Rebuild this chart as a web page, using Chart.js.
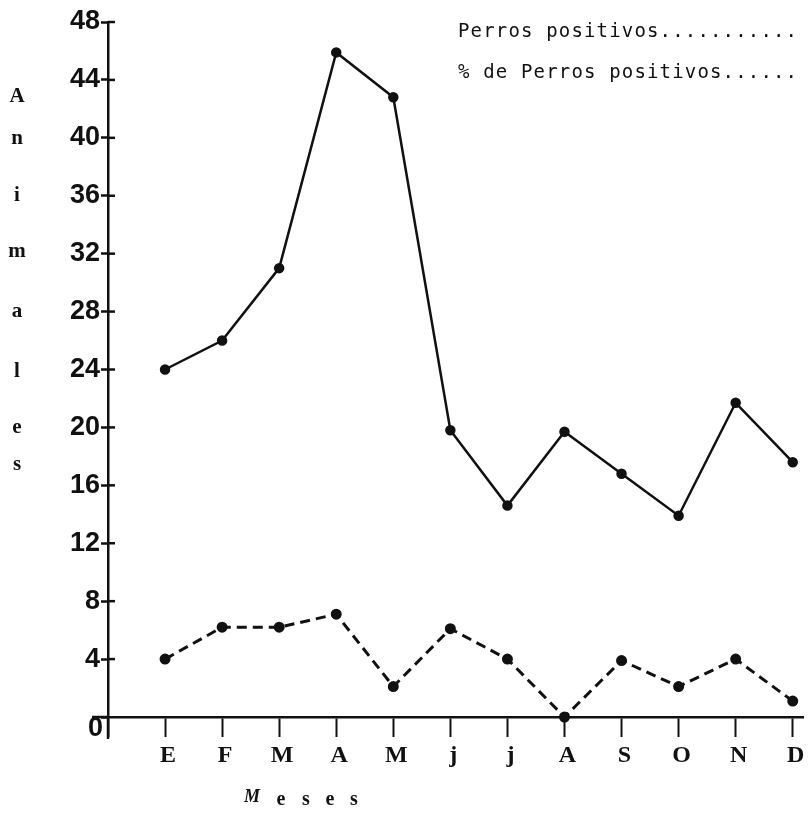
<!DOCTYPE html>
<html>
<head>
<meta charset="utf-8">
<script src="https://cdn.jsdelivr.net/npm/chart.js@4.4.1/dist/chart.umd.min.js"></script>
<style>
  html, body { margin: 0; padding: 0; background: #fff; }
  #wrap { width: 810px; height: 817px; }
</style>
</head>
<body>
<div id="wrap"><canvas id="chart" width="810" height="817"></canvas></div>
<script>
// months (x categories 1..12)
const meses = ['E', 'F', 'M', 'A', 'M', 'j', 'j', 'A', 'S', 'O', 'N', 'D']
const perrosPositivos = [24.0, 26.0, 31.0, 45.9, 42.8, 19.8, 14.6, 19.7, 16.8, 13.9, 21.7, 17.6]
const pctPerrosPositivos = [4.0, 6.2, 6.2, 7.1, 2.1, 6.1, 4.0, 0.0, 3.9, 2.1, 4.0, 1.1]
const yTicks = [0, 4, 8, 12, 16, 20, 24, 28, 32, 36, 40, 44, 48]
const xTicks = [0, 1, 2, 3, 4, 5, 6, 7, 8, 9, 10, 11, 12]
const tituloY = ['A', 'n', 'i', 'm', 'a', 'l', 'e', 's']
const tituloX = ['M', 'e', 's', 'e', 's']
const leyenda = ['Perros positivos...........', '% de Perros positivos......']

const INK = '#111'
const toPoints = arr => arr.map((v, i) => ({ x: i + 1, y: v }))

// extras drawn by hand: crossing ticks, axis stubs, titles, legend text
const extras = {
  id: 'extras',
  afterDraw(chart) {
    const ctx = chart.ctx
    const xs = chart.scales.x
    const ys = chart.scales.y
    const x0 = xs.getPixelForValue(0)
    const y0 = ys.getPixelForValue(0)
    ctx.save()
    ctx.strokeStyle = INK
    ctx.fillStyle = INK
    ctx.lineWidth = 2.5

    // inner part of y ticks
    yTicks.forEach(v => {
      if (v === 0) return
      const y = ys.getPixelForValue(v)
      ctx.beginPath()
      ctx.moveTo(x0, y)
      ctx.lineTo(x0 + 7, y)
      ctx.stroke()
    })
    // axis stubs
    ctx.beginPath()
    ctx.moveTo(x0, y0)
    ctx.lineTo(x0, y0 + 22)
    ctx.moveTo(x0 - 16, y0)
    ctx.lineTo(x0, y0)
    ctx.stroke()

    // "0" label
    ctx.font = 'bold 27px "Liberation Sans", Arial, sans-serif'
    ctx.textAlign = 'right'
    ctx.textBaseline = 'middle'
    ctx.fillText('0', x0 - 5, y0 + 12)

    // y title, stacked letters
    const letterY = [97, 139, 196, 252, 312, 372, 428, 465]
    ctx.font = 'bold 21px "Liberation Serif", "DejaVu Serif", serif'
    ctx.textAlign = 'center'
    tituloY.forEach((c, i) => ctx.fillText(c, 17, letterY[i]))

    // x title, spaced letters
    const letterX = [252, 281, 306, 330, 354]
    tituloX.forEach((c, i) => {
      ctx.font = i === 0
        ? 'bold italic 18px "Liberation Serif", "DejaVu Serif", serif'
        : 'bold 20px "Liberation Serif", "DejaVu Serif", serif'
      ctx.fillText(c, letterX[i], i === 0 ? 797 : 800)
    })

    // legend (typewriter text)
    ctx.font = '19px "DejaVu Sans Mono", "Liberation Mono", monospace'
    ctx.textAlign = 'left'
    ctx.textBaseline = 'alphabetic'
    leyenda.forEach((t, row) => {
      for (let i = 0; i < t.length; i++) {
        ctx.fillText(t[i], 458 + i * 12.6, 37 + row * 41)
      }
    })
    ctx.restore()
  }
}

new Chart(document.getElementById('chart'), {
  type: 'line',
  data: {
    datasets: [
      {
        label: 'Perros positivos',
        data: toPoints(perrosPositivos),
        borderColor: INK,
        borderWidth: 2.5,
        pointRadius: 4,
        pointBackgroundColor: INK,
        pointBorderColor: INK,
        tension: 0
      },
      {
        label: '% de Perros positivos',
        data: toPoints(pctPerrosPositivos),
        borderColor: INK,
        borderWidth: 3,
        borderDash: [10, 6],
        pointRadius: 4,
        pointBackgroundColor: INK,
        pointBorderColor: INK,
        tension: 0
      }
    ]
  },
  options: {
    responsive: false,
    animation: false,
    clip: false,
    layout: { padding: { top: 22, right: 0, bottom: 0, left: 0 } },
    plugins: {
      legend: { display: false },
      tooltip: { enabled: false }
    },
    scales: {
      x: {
        type: 'linear',
        min: 0,
        max: 12.18,
        afterBuildTicks: s => { s.ticks = xTicks.map(v => ({ value: v })) },
        afterFit: s => { s.height = 100 },
        border: { color: INK, width: 2.5 },
        grid: { drawOnChartArea: false, drawTicks: true, tickLength: 20, tickColor: INK, tickWidth: 2 },
        ticks: {
          autoSkip: false,
          maxRotation: 0,
          padding: 4,
          labelOffset: 3,
          color: INK,
          font: { family: '"Liberation Serif", "DejaVu Serif", serif', size: 24, weight: 'bold' },
          callback: v => (v >= 1 && v <= 12 ? meses[v - 1] : '')
        }
      },
      y: {
        min: 0,
        max: 48,
        afterBuildTicks: s => { s.ticks = yTicks.map(v => ({ value: v })) },
        afterFit: s => { s.width = 108 },
        border: { color: INK, width: 2.5 },
        grid: { drawOnChartArea: false, drawTicks: true, tickLength: 7, tickColor: INK, tickWidth: 2.5 },
        ticks: {
          padding: 1,
          color: INK,
          font: { family: '"Liberation Sans", Arial, sans-serif', size: 27, weight: 'bold' },
          callback: v => (v === 0 ? '' : String(v))
        }
      }
    }
  },
  plugins: [extras]
})
</script>
</body>
</html>
